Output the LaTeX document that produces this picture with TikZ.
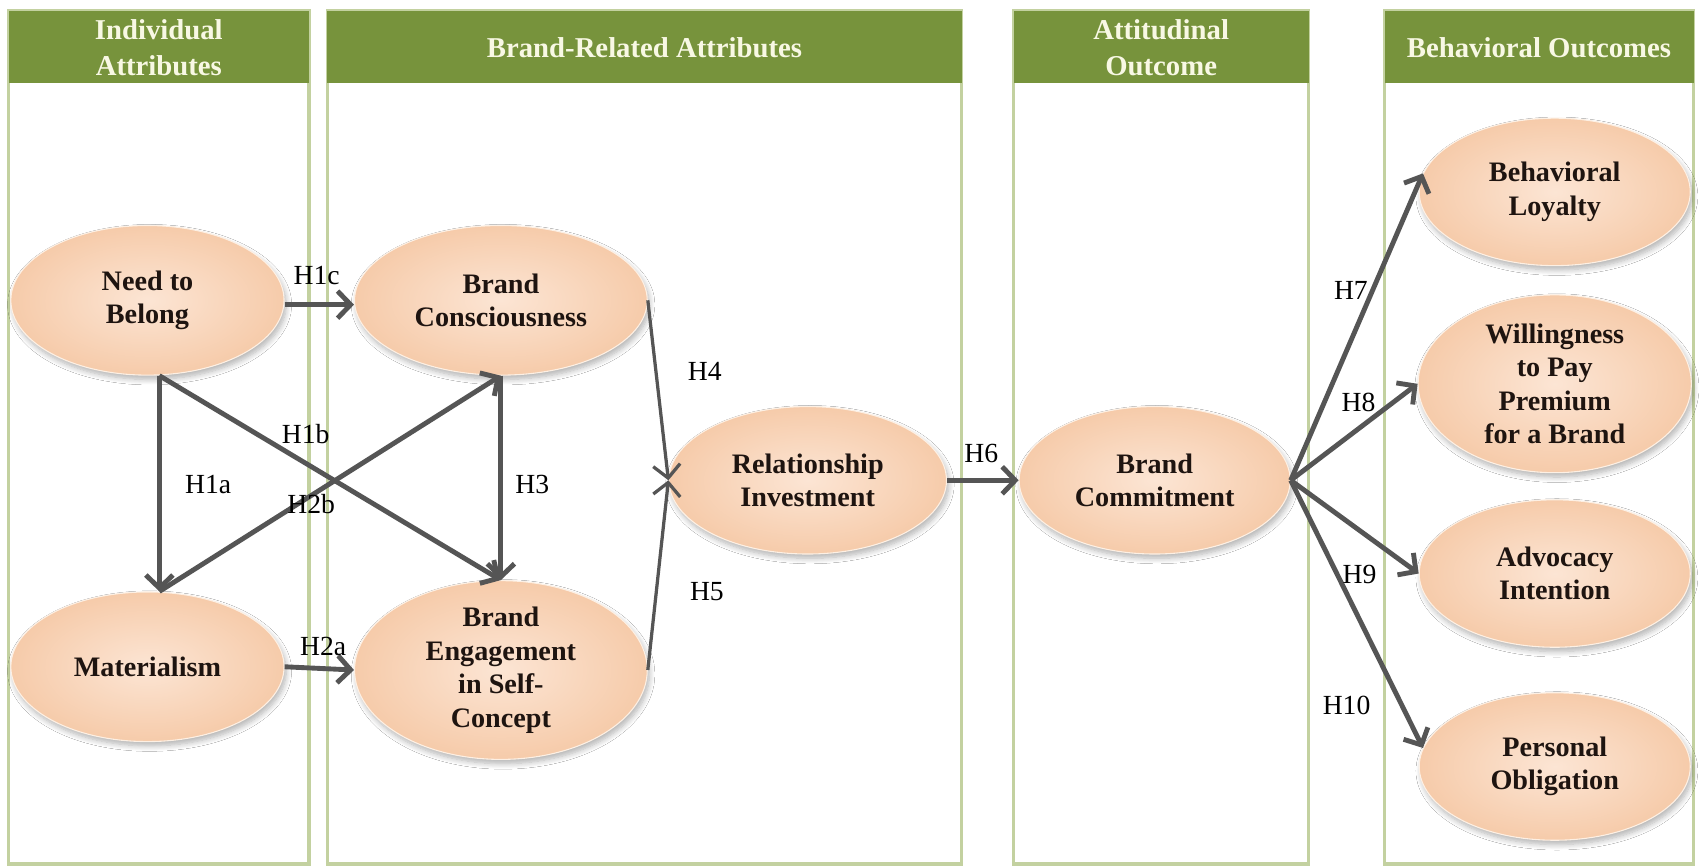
\documentclass[tikz,border=0pt]{standalone}
\usepackage{fontspec}
\setmainfont{Liberation Serif}
\usetikzlibrary{shapes.geometric,arrows.meta,shadows.blur}
\definecolor{hdrgreen}{HTML}{77933C}
\definecolor{hdrtext}{HTML}{F8F8E4}
\definecolor{panelline}{HTML}{C3D1A0}
\definecolor{arrowgrey}{HTML}{555555}
\definecolor{peachin}{HTML}{FCE5D4}
\definecolor{peachout}{HTML}{F6CBAA}
\definecolor{peachrim}{HTML}{FDF0E4}
\definecolor{elltext}{HTML}{1E1410}
\newcommand{\ellfont}{\bfseries\fontsize{26}{31}\selectfont}
\newcommand{\hdrfont}{\bfseries\fontsize{26.5}{34}\selectfont}
\newcommand{\labfont}{\fontsize{25.5}{28}\selectfont}
\tikzset{
  ell/.style={ellipse, draw=peachrim, line width=1pt, inner color=peachin, outer color=peachout,
    align=center, font=\ellfont, text=elltext, inner sep=0pt,
    minimum width=252pt, minimum height=138pt,
    blur shadow={shadow xshift=2pt, shadow yshift=-4pt, shadow blur steps=8, shadow opacity=30, shadow blur radius=5pt}},
  conn/.style={draw=arrowgrey, line width=4.5pt, -{Straight Barb[length=12pt,width=25pt]}},
  thinconn/.style={conn, line width=3pt},
  hyp/.style={font=\labfont, text=black, inner sep=1pt},
  hdrtxt/.style={font=\hdrfont, text=hdrtext, align=center},
  hdrbox/.style={fill=hdrgreen},
  panelbox/.style={draw=panelline, line width=3pt},
}
\begin{document}
\begin{tikzpicture}[x=1pt,y=-1pt]
\useasboundingbox (0,0) rectangle (1568,799);
\fill[white] (0,0) rectangle (1568,799);
% panels
\foreach \l/\r in {8/285, 302/887, 935/1207, 1277/1562}{
  \draw[panelbox] (\l,10) rectangle (\r,797);
  \fill[hdrbox] (\l,10) rectangle (\r,77);
}
\node[hdrtxt] (h1) at (146.5,44) {Individual\\Attributes};
\node[hdrtxt] (h2) at (594.5,44) {Brand-Related Attributes};
\node[hdrtxt] (h3) at (1071,44) {Attitudinal\\Outcome};
\node[hdrtxt] (h4) at (1419.5,44) {Behavioral Outcomes};
% ellipses
\node[ell] (NB) at (136,277) {Need to\\Belong};
\node[ell, minimum width=270pt] (BC) at (462,277) {Brand\\Consciousness};
\node[ell] (MA) at (136,615) {Materialism};
\node[ell, minimum width=270pt] (BE) at (462,618) {Brand\\Engagement\\in Self-\\Concept};
\node[ell, minimum width=256pt, minimum height=136pt] (RI) at (745,443) {Relationship\\Investment};
\node[ell, minimum width=250pt, minimum height=136pt] (CM) at (1065,443) {Brand\\Commitment};
\node[ell, minimum width=250pt, minimum height=136pt] (BL) at (1434,177) {Behavioral\\Loyalty};
\node[ell, minimum width=252pt, minimum height=164pt] (WP) at (1434,354) {Willingness\\to Pay\\Premium\\for a Brand};
\node[ell, minimum width=250pt, minimum height=136pt] (AI) at (1434,529) {Advocacy\\Intention};
\node[ell, minimum width=250pt, minimum height=136pt] (PO) at (1434,707) {Personal\\Obligation};
% connectors
\coordinate (nbs) at ([xshift=11pt]NB.south);
\coordinate (man) at ([xshift=11pt]MA.north);
\draw[conn] ([yshift=-4pt]NB.east) -- ([yshift=-4pt]BC.west);
\draw[conn] (nbs) -- (man);
\draw[conn] (nbs) -- (BE.north);
\draw[conn] (man) -- (BC.south);
\draw[conn] (BC.south) -- (BE.north);
\draw[conn] (MA.east) -- (BE.west);
\draw[thinconn] (BC.east) -- (RI.west);
\draw[thinconn] (BE.east) -- (RI.west);
\draw[conn] (RI.east) -- (CM.west);
\draw[conn] (CM.east) -- (BL.172);
\draw[conn] (CM.east) -- (WP.west);
\draw[conn] (CM.east) -- (AI.west);
\draw[conn] (CM.east) -- (PO.172);
% labels
\node[hyp] (l1c) at (292,254) {H1c};
\node[hyp] (l1a) at (192,447) {H1a};
\node[hyp] (l1b) at (282,400) {H1b};
\node[hyp] (l2b) at (287,465) {H2b};
\node[hyp] (l3) at (491,447) {H3};
\node[hyp] (l2a) at (298,596) {H2a};
\node[hyp] (l4) at (650,343) {H4};
\node[hyp] (l5) at (652,546) {H5};
\node[hyp] (l6) at (905,418) {H6};
\node[hyp] (l7) at (1246,268) {H7};
\node[hyp] (l8) at (1253,371) {H8};
\node[hyp] (l9) at (1254,530) {H9};
\node[hyp] (l10) at (1242,651) {H10};
\end{tikzpicture}
\end{document}
